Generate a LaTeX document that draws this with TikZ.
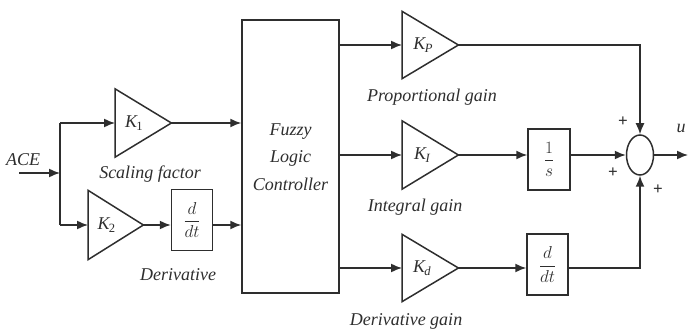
\documentclass[tikz,border=0pt]{standalone}
\usepackage{fontspec}
\setmainfont{Liberation Serif}
\usetikzlibrary{arrows.meta,shapes.geometric}
\definecolor{ink}{HTML}{2E2E2E}
\tikzset{
  line/.style={draw=ink,line width=1.5pt},
  arr/.style={line,-{Latex[length=11pt,width=9pt]}},
  gain/.style={inner sep=0pt,minimum width=56pt,minimum height=68pt,anchor=west},
  blk/.style={line,inner sep=0pt,minimum width=41pt,minimum height=61pt,font=\fontsize{18}{22}\selectfont,text=ink},
  txt/.style={font=\fontsize{18}{27.5}\selectfont\itshape,text=ink,inner sep=0pt,align=center},
  klbl/.style={font=\fontsize{18}{20}\selectfont\itshape,text=ink,inner sep=0pt},
  sgn/.style={font=\fontsize{17}{17}\selectfont\bfseries,text=ink,inner sep=0pt}
}
\newcommand{\ksub}[2]{#1\textsubscript{\kern-0.05em#2}}
\begin{document}
\begin{tikzpicture}[x=1pt,y=-1pt]
\useasboundingbox (0,0) rectangle (688,331);
% input
\node[txt] (ace) at (23,160) {ACE};
\coordinate (ain) at (19,173);
\coordinate (j) at (60,173);
\coordinate (jt) at (60,123);
\coordinate (jb) at (60,225);
% gains
\node[gain] (k1) at (115,123) {};
\node[gain,minimum width=55pt,minimum height=69pt] (k2) at (88,225) {};
\node[gain,minimum height=67pt] (kp) at (402,45) {};
\node[gain] (ki) at (402,155) {};
\node[gain,minimum height=67pt] (kd) at (402,268) {};
\foreach \n in {k1,k2,kp,ki,kd}
  \draw[line,line join=miter] (\n.north west) -- (\n.east) -- (\n.south west) -- cycle;
\node[klbl] (k1l) at ([xshift=-9pt]k1.center) {\ksub{K}{\upshape 1}};
\node[klbl] (k2l) at ([xshift=-9pt]k2.center) {\ksub{K}{\upshape 2}};
\node[klbl] (kpl) at ([xshift=-7pt]kp.center) {\ksub{K}{P}};
\node[klbl] (kil) at ([xshift=-8pt]ki.center) {\ksub{K}{I}};
\node[klbl] (kdl) at ([xshift=-8pt]kd.center) {\ksub{K}{d}};
% blocks
\node[blk] (dd1) at (192,220) {$\displaystyle\frac{d}{dt}$};
\node[blk,minimum width=97pt,minimum height=273pt] (flc) at (290.5,156.5) {};
\node[txt] (flct) at (290.5,157) {Fuzzy\\Logic\\Controller};
\node[blk,minimum width=42pt] (integ) at (549,159.5) {$\displaystyle\frac{1}{s}$};
\node[blk] (dd2) at (547.5,264.5) {$\displaystyle\frac{d}{dt}$};
\node[ellipse,line,inner sep=0pt,minimum width=27pt,minimum height=40pt] (sum) at (640,155) {};
\coordinate (out) at (688,155);
% labels
\node[txt] (l1) at (150,174) {Scaling factor};
\node[txt] (l2) at (178,275) {Derivative};
\node[txt] (l3) at (432,97) {Proportional gain};
\node[txt] (l4) at (415,207) {Integral gain};
\node[txt] (l5) at (406,321) {Derivative gain};
\node[txt] (u) at (681,128) {u};
\node[sgn] (p1) at (623,122) {+};
\node[sgn] (p2) at (613,173) {+};
\node[sgn] (p3) at (658,190) {+};
% connectors
\draw[arr] (ain) -- (j);
\draw[line] (jt) -- (jb);
\draw[arr] (jt) -- (k1.west);
\draw[arr] (jb) -- (k2.west);
\draw[arr] (k1.east) -- (k1.east -| flc.west);
\draw[arr] (k2.east) -- (k2.east -| dd1.west);
\draw[arr] (dd1.east |- k2.east) -- (k2.east -| flc.west);
\draw[arr] (kp.west -| flc.east) -- (kp.west);
\draw[arr] (ki.west -| flc.east) -- (ki.west);
\draw[arr] (kd.west -| flc.east) -- (kd.west);
\draw[arr] (kp.east) -- (kp.east -| sum.north) -- (sum.north);
\draw[arr] (ki.east) -- (ki.east -| integ.west);
\draw[arr] (integ.east |- sum.west) -- (sum.west);
\draw[arr] (kd.east) -- (kd.east -| dd2.west);
\draw[arr] (dd2.east |- kd.east) -- (kd.east -| sum.south) -- (sum.south);
\draw[arr] (sum.east) -- (out);
\end{tikzpicture}
\end{document}
